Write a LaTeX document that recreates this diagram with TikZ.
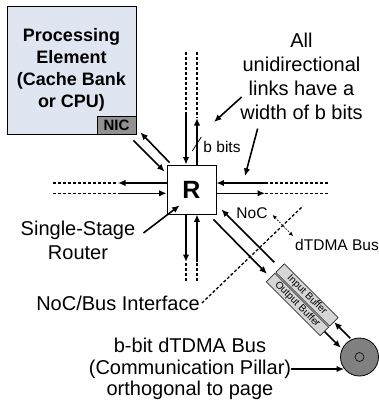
\documentclass[tikz,border=0pt]{standalone}
\usepackage{fontspec}
\setmainfont{Liberation Sans}
\usepackage{tikz}
\usetikzlibrary{calc,shapes,arrows.meta}
\definecolor{peblue}{RGB}{223,229,241}
\definecolor{nicgray}{RGB}{145,145,145}
\definecolor{pillargray}{RGB}{128,128,128}
\definecolor{bufgray}{RGB}{214,214,214}
\tikzstyle{link}=[line width=1.6pt,-{Latex[length=7.5pt,width=6.5pt]}]
\tikzstyle{wire}=[line width=1.6pt,dash pattern=on 3pt off 2pt]
\tikzstyle{iface}=[line width=1.3pt,dash pattern=on 3pt off 2pt]
\tikzstyle{nocbus}=[line width=0.8pt,dash pattern=on 1.5pt off 1.5pt,
                    {Latex[length=4pt,width=4pt]}-{Latex[length=4pt,width=4pt]}]
\tikzstyle{annot}=[inner sep=0pt,align=center,font=\fontsize{20}{24}\selectfont]
\tikzstyle{smallannot}=[inner sep=0pt,font=\fontsize{15.5}{18}\selectfont]
\tikzstyle{pebox}=[rectangle,draw=black,fill=peblue,line width=0.8pt,
                   minimum width=129pt,minimum height=128pt,align=center,
                   font=\fontsize{18}{22}\selectfont\bfseries]
\tikzstyle{nicbox}=[rectangle,draw=black,fill=nicgray,line width=0.8pt,
                    minimum width=39pt,minimum height=18pt,inner sep=0pt,
                    font=\fontsize{15}{18}\selectfont\bfseries]
\tikzstyle{routerbox}=[rectangle,draw=black,fill=white,line width=0.8pt,
                       minimum size=49pt,font=\fontsize{25}{30}\selectfont\bfseries]
\tikzstyle{bufbox}=[rectangle,draw=black,fill=bufgray,line width=0.6pt,rotate=-45,
                    minimum width=76pt,minimum height=12pt,inner sep=0pt,
                    font=\fontsize{10}{11}\selectfont]
\tikzstyle{pillarnode}=[circle,draw=black,fill=pillargray,line width=0.8pt,minimum size=38pt]
\tikzstyle{pillarcore}=[circle,draw=black,line width=0.6pt,minimum size=9pt,inner sep=0pt]

\begin{document}
\begin{tikzpicture}[x=1pt,y=-1pt]
	\useasboundingbox (0,0) rectangle (379,402);

	\node [pebox] (pe) at (71.5,70) {Processing\\Element\\(Cache Bank\\or CPU)};
	\node [nicbox,anchor=south east] (nic) at (pe.south east) {NIC};
	\node [routerbox] (router) at (191.5,189.5) {R};

	% dashed interface line, under the links
	\node [annot] (ifaceLbl) at (118,303) {NoC/Bus Interface};
	\coordinate (ifaceTop) at (303,206);
	\draw [iface] ($(ifaceLbl.east)+(2,0)$) -- (ifaceTop);

	% router links
	\coordinate (topIn) at (186,115);
	\coordinate (topInEnd) at (186,52);
	\coordinate (topOut) at (197,118);
	\coordinate (topOutEnd) at (197,52);
	\draw [wire] (topInEnd) -- (topIn);
	\draw [link] (topIn) -- (topIn |- router.north);
	\draw [wire] (topOutEnd) -- (topOut);
	\draw [link] (topOut |- router.north) -- (topOut);

	\coordinate (leftOut) at (118,183);
	\coordinate (leftOutEnd) at (53,183);
	\coordinate (leftIn) at (118,193.3);
	\coordinate (leftInEnd) at (53,193.3);
	\draw [wire] (leftOutEnd) -- (leftOut);
	\draw [link] (router.west |- leftOut) -- (leftOut);
	\draw [wire] (leftInEnd) -- (leftIn);
	\draw [link] (leftIn) -- (router.west |- leftIn);

	\coordinate (rightIn) at (265,183);
	\coordinate (rightInEnd) at (328,183);
	\coordinate (rightOut) at (265,193.3);
	\coordinate (rightOutEnd) at (328,193.3);
	\draw [wire] (rightInEnd) -- (rightIn);
	\draw [link] (rightIn) -- (router.east |- rightIn);
	\draw [wire] (rightOutEnd) -- (rightOut);
	\draw [link] (router.east |- rightOut) -- (rightOut);

	\coordinate (botOut) at (186,262);
	\coordinate (botOutEnd) at (186,281);
	\coordinate (botIn) at (197,262);
	\coordinate (botInEnd) at (197,281);
	\draw [wire] (botOutEnd) -- (botOut);
	\draw [link] (router.south -| botOut) -- (botOut);
	\draw [wire] (botInEnd) -- (botIn);
	\draw [link] (botIn) -- (router.south -| botIn);

	% PE <-> router
	\draw [link] ($(router.north west)+(3,-2)$) -- ($(nic.south east)+(4,-2)$);
	\draw [link] ($(nic.south east)+(-3,6)$) -- ($(router.north west)+(-2,7)$);

	% buffers and pillar
	\node [bufbox] (inBuf) at (307,295) {Input Buffer};
	\node [bufbox] (outBuf) at (297.5,304.5) {Output Buffer};
	\draw [link,shorten <=8pt] (inBuf.west) -- ($(router.south east)+(5,-5)$);
	\draw [link,shorten >=5pt] ($(router.south east)+(-3,5)$) -- (outBuf.west);
	\node [pillarnode] (pillar) at (359.5,357) {};
	\node [pillarcore] (pillarCore) at (pillar.center) {};
	\draw [link] ($(inBuf.east)!-23pt!(inBuf.west)$) -- (inBuf.east);
	\draw [link] (outBuf.east) -- ($(outBuf.east)!-23pt!(outBuf.west)$);

	% labels
	\node [smallannot] (bbits) at (222,147) {b bits};
	\draw [line width=0.8pt] ($(bbits.west)+(-11,4)$) -- ($(bbits.west)+(-2,-10)$);

	\node [annot] (allLinks) at (301.5,76) {All\\unidirectional\\links have a\\width of b bits};
	\coordinate (tipA) at (214,122);
	\coordinate (tipB) at (245,176);
	\draw [link] ($(allLinks.west)+(1.5,21)$) -- (tipA);
	\draw [link] ($(allLinks.south west)+(17.5,9)$) -- (tipB);

	\node [annot] (ssr) at (78,240) {Single-Stage\\Router};
	\draw [link] ($(ssr.east)+(8,-7)$) -- ($(router.south west)+(13,-9)$);

	\node [smallannot] (noc) at (252,213) {NoC};
	\node [smallannot] (dtdma) at (337,245) {dTDMA Bus};
	\draw [nocbus] ($(noc.east)+(5,2)$) -- ($(dtdma.north west)+(-2,-3)$);

	\node [annot,font=\fontsize{20}{21.5}\selectfont] (busLbl) at (190,369)
		{b-bit dTDMA Bus\\(Communication Pillar)\\orthogonal to page};
	\draw [link,shorten >=-4pt] (busLbl.east) -- (busLbl.east -| pillar.west);
\end{tikzpicture}
\end{document}
